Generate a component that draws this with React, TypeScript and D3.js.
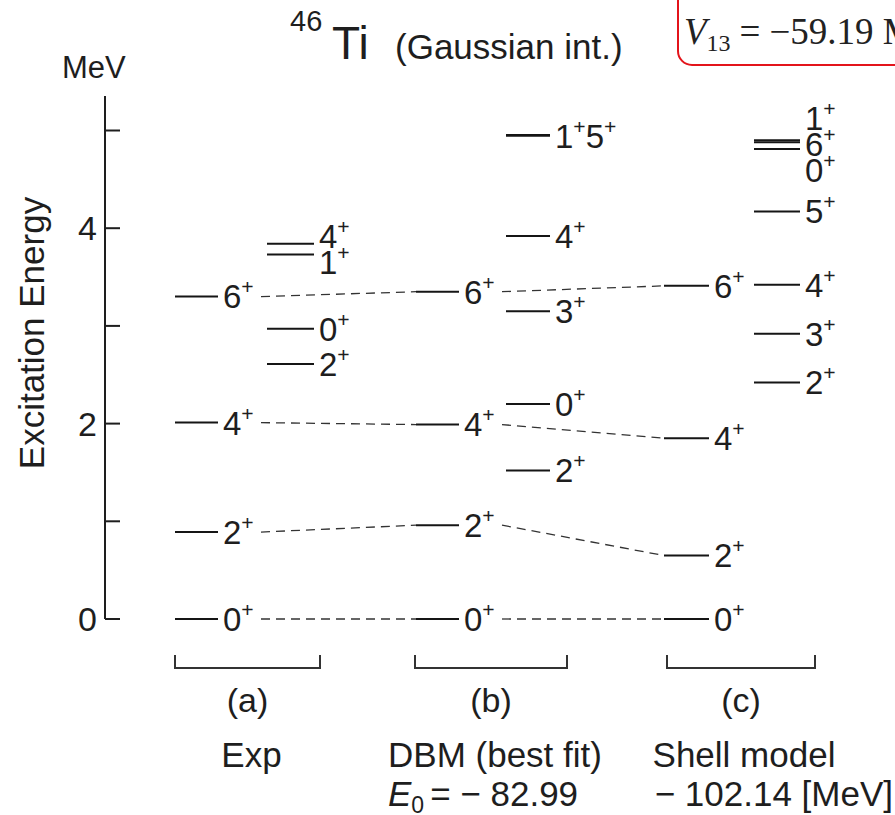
import React from "react";
import * as d3 from "d3";

// Energy levels (spin, excitation energy in MeV), all positive parity
const expMain: [string, number][] = [["0", 0], ["2", 0.89], ["4", 2.01], ["6", 3.3]];
const expSide: [string, number][] = [["2", 2.61], ["0", 2.97], ["1", 3.73], ["4", 3.84]];
const dbmMain: [string, number][] = [["0", 0], ["2", 0.96], ["4", 1.99], ["6", 3.35]];
const dbmSide: [string, number][] = [["2", 1.52], ["0", 2.2], ["3", 3.15], ["4", 3.92], ["1", 4.955], ["5", 4.945]];
const smMain: [string, number][] = [["0", 0], ["2", 0.65], ["4", 1.85], ["6", 3.41]];
const smSide: [string, number][] = [["2", 2.42], ["3", 2.92], ["4", 3.42], ["5", 4.17], ["0", 4.81], ["6", 4.88], ["1", 4.9]];

const yTicks = [0, 1, 2, 3, 4, 5];
const yTickLabels = ["0", "", "2", "", "4", ""];
const panelTags = ["(a)", "(b)", "(c)"];
const panelNames = ["Exp", "DBM (best fit)", "Shell model"];
const yrastSpins = ["0", "2", "4", "6"];

const W = 895;
const H = 815;
const FONT = "'Liberation Sans', Arial, Helvetica, sans-serif";
const SERIF = "'Liberation Serif', 'DejaVu Serif', serif";
const INK = "#1e1e1e";

const y = d3.scaleLinear().domain([0, 5]).range([619, 130.5]);

type Col = { x0: number; x1: number; levels: [string, number][] };
const cols: Col[] = [
  { x0: 175, x1: 218, levels: expMain },
  { x0: 267, x1: 314, levels: expSide },
  { x0: 416, x1: 459, levels: dbmMain },
  { x0: 506, x1: 550, levels: dbmSide },
  { x0: 664, x1: 709, levels: smMain },
  { x0: 754, x1: 800, levels: smSide },
];
const mainCols = [cols[0], cols[2], cols[4]];
const brackets: [number, number][] = [[175, 320], [415, 567], [667, 815]];

// Group near-degenerate levels into one label, then spread labels apart
function layoutLabels(levels: [string, number][]) {
  const sorted = [...levels].sort((a, b) => a[1] - b[1]);
  const groups: { spins: string[]; e: number; ly: number }[] = [];
  sorted.forEach(([s, e]) => {
    const g = groups[groups.length - 1];
    if (g && Math.abs(g.e - e) < 0.015) g.spins.push(s);
    else groups.push({ spins: [s], e, ly: y(e) });
  });
  groups.forEach((g) => (g.ly = y(g.e)));
  const gap = 26;
  for (let it = 0; it < 60; it++) {
    for (let i = 1; i < groups.length; i++) {
      const lo = groups[i - 1];
      const hi = groups[i];
      const d = lo.ly - hi.ly;
      if (d < gap) {
        const push = (gap - d) / 2;
        lo.ly += push;
        hi.ly -= push;
      }
    }
  }
  // merged labels keep the order in which the spins are listed
  groups.forEach((g) => {
    if (g.spins.length > 1) {
      g.spins = levels.filter((l) => g.spins.includes(l[0])).map((l) => l[0]);
    }
  });
  return groups;
}

function SpinLabel({ x, yy, spins, size = 33 }: { x: number; yy: number; spins: string[]; size?: number }) {
  const lift = 14;
  const parts: React.ReactNode[] = [];
  spins.forEach((s, i) => {
    parts.push(
      <tspan key={"d" + i} dy={i === 0 ? 0 : lift}>
        {s}
      </tspan>
    );
    parts.push(
      <tspan key={"p" + i} dy={-lift} fontSize={size * 0.64}>
        +
      </tspan>
    );
  });
  return (
    <text x={x} y={yy + size * 0.36} fontSize={size} fontFamily={FONT} fill={INK}>
      {parts}
    </text>
  );
}

export default function App() {
  const axisX = 105;
  const lineGen = d3.line<[number, number]>();

  // dashed connectors between yrast states of neighbouring models
  const connectors: [number, number][][] = [];
  for (let c = 0; c < 2; c++) {
    const a = mainCols[c];
    const b = mainCols[c + 1];
    yrastSpins.forEach((s) => {
      const la = a.levels.find((l) => l[0] === s)!;
      const lb = b.levels.find((l) => l[0] === s)!;
      connectors.push([
        [a.x1 + 43, y(la[1])],
        [b.x0, y(lb[1])],
      ]);
    });
  }

  return (
    <svg width={W} height={H} viewBox={`0 0 ${W} ${H}`} style={{ display: "block", position: "absolute", left: 0, top: 0, background: "#fff" }}>
      <rect width={W} height={H} fill="#fff" />

      {/* title */}
      <text x={290} y={31} fontSize={29} fontFamily={FONT} fill={INK}>46</text>
      <text x={332} y={59} fontSize={46} fontFamily={FONT} fill={INK}>Ti</text>
      <text x={395} y={59} fontSize={35} fontFamily={FONT} fill={INK}>(Gaussian int.)</text>

      {/* interaction strength box */}
      <rect x={678} y={-14} width={260} height={79} rx={14} ry={14} fill="#fff" stroke="#e3141b" strokeWidth={2} />
      <text x={684} y={44} fontSize={37} fontFamily={SERIF} fill="#222">
        <tspan fontStyle="italic">V</tspan>
        <tspan fontSize={24} dy={7}>13</tspan>
        <tspan dy={-7} dx={9}>=</tspan>
        <tspan dx={9}>−59.19 MeV</tspan>
      </text>

      {/* energy axis */}
      <path d={`M${axisX},96V${y(0)}`} stroke={INK} strokeWidth={2} fill="none" />
      {yTicks.map((t, i) => (
        <g key={t}>
          <line x1={axisX} x2={axisX + 15} y1={y(t)} y2={y(t)} stroke={INK} strokeWidth={2} />
          {yTickLabels[i] && (
            <text x={axisX - 8} y={y(t) + 12} textAnchor="end" fontSize={34} fontFamily={FONT} fill={INK}>
              {yTickLabels[i]}
            </text>
          )}
        </g>
      ))}
      <text x={62} y={78} fontSize={31} fontFamily={FONT} fill={INK}>MeV</text>
      <text transform={`translate(44,${333}) rotate(-90)`} textAnchor="middle" fontSize={35} fontFamily={FONT} fill={INK}>
        Excitation Energy
      </text>

      {/* connectors */}
      {connectors.map((seg, i) => (
        <path key={i} d={lineGen(seg)!} stroke="#333" strokeWidth={1.3} strokeDasharray="9 6" fill="none" />
      ))}

      {/* levels */}
      {cols.map((c, ci) => (
        <g key={ci}>
          {c.levels.map(([, e], li) => (
            <line key={li} x1={c.x0} x2={c.x1} y1={y(e)} y2={y(e)} stroke="#151515" strokeWidth={2} />
          ))}
          {layoutLabels(c.levels).map((g, gi) => (
            <SpinLabel key={gi} x={c.x1 + 5} yy={g.ly} spins={g.spins} />
          ))}
        </g>
      ))}

      {/* model brackets and captions */}
      {brackets.map(([x0, x1], i) => (
        <g key={i}>
          <path d={`M${x0},655V668H${x1}V655`} stroke="#333" strokeWidth={2} fill="none" />
          <text x={(x0 + x1) / 2} y={712} textAnchor="middle" fontSize={34} fontFamily={FONT} fill={INK}>
            {panelTags[i]}
          </text>
          <text x={(x0 + x1) / 2 + (i === 0 ? 4 : i === 1 ? 4 : 3)} y={767} textAnchor="middle" fontSize={35} fontFamily={FONT} fill={INK}>
            {panelNames[i]}
          </text>
        </g>
      ))}
      <text x={388} y={806} fontSize={35} fontFamily={FONT} fill={INK}>
        <tspan fontStyle="italic">E</tspan>
        <tspan fontSize={23} dy={7}>0</tspan>
        <tspan dy={-7} dx={6}>= − 82.99</tspan>
      </text>
      <text x={893} y={806} textAnchor="end" fontSize={35} fontFamily={FONT} fill={INK}>
        − 102.14 [MeV]
      </text>
    </svg>
  );
}
